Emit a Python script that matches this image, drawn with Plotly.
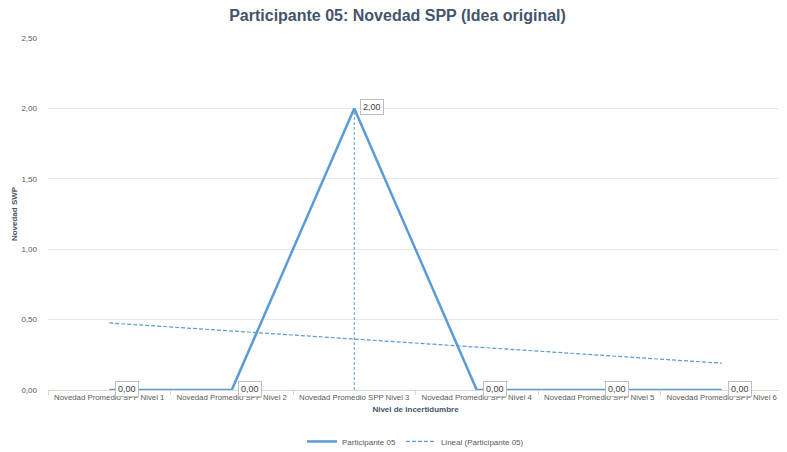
import numpy as np
import plotly.graph_objects as go

categories = ["Novedad Promedio SPP Nivel 1", "Novedad Promedio SPP Nivel 2",
              "Novedad Promedio SPP Nivel 3", "Novedad Promedio SPP Nivel 4",
              "Novedad Promedio SPP Nivel 5", "Novedad Promedio SPP Nivel 6"]
values = [0.0, 0.0, 2.0, 0.0, 0.0, 0.0]
y_ticks = [0, 0.5, 1.0, 1.5, 2.0, 2.5]

title = "Participante 05: Novedad SPP (Idea original)"
series_name = "Participante 05"
trend_name = "Lineal (Participante 05)"

# linear trendline (least squares, as in the spreadsheet "Lineal" trend)
xi = np.arange(1, len(values) + 1)
slope, intercept = np.polyfit(xi, values, 1)
trend = list(slope * xi + intercept)

color = "#5B9BD5"
font_fam = "Liberation Sans, Arial, sans-serif"

fig = go.Figure()
fig.add_trace(go.Scatter(x=categories, y=values, mode="lines", name=series_name,
                         line=dict(color=color, width=2.5)))
fig.add_trace(go.Scatter(x=categories, y=trend, mode="lines", name=trend_name,
                         line=dict(color=color, width=1.2, dash="4px,2px")))
# drop line at the peak
peak_i = int(np.argmax(values))
fig.add_trace(go.Scatter(x=[categories[peak_i], categories[peak_i]], y=[0, values[peak_i]],
                         mode="lines", line=dict(color=color, width=1, dash="3px,2px"),
                         showlegend=False, hoverinfo="skip"))

for c, v in zip(categories, values):
    fig.add_annotation(x=c, y=v, text=f"{v:.2f}".replace(".", ","), showarrow=False,
                       xanchor="left", yanchor="middle", xshift=6, yshift=1,
                       bgcolor="white", bordercolor="#BFBFBF", borderwidth=1, borderpad=2,
                       font=dict(family=font_fam, size=9, color="#404040"))

fig.update_layout(
    width=779, height=444,
    margin=dict(l=40, r=4, t=30, b=62, autoexpand=False),
    paper_bgcolor="white", plot_bgcolor="white",
    separators=", ",
    title=dict(text=f"<b>{title}</b>", x=0.5, xanchor="center", y=0.995, yanchor="top",
               font=dict(family=font_fam, size=16, color="#44546A")),
    xaxis=dict(type="category", categoryorder="array", categoryarray=categories,
               showgrid=False, showline=True, linecolor="#D9D9D9",
               ticks="outside", tickson="boundaries", ticklen=4, tickcolor="#D9D9D9",
               tickangle=0, automargin=False,
               tickfont=dict(family=font_fam, size=7.8, color="#595959"),
               title=dict(text="<b>Nivel de incertidumbre</b>", standoff=5,
                          font=dict(family=font_fam, size=8, color="#44546A")),
               range=[-0.5, len(categories) - 0.5]),
    yaxis=dict(range=[0, 2.5], tickvals=y_ticks, tickformat=".2f", showgrid=True,
               gridcolor="#E7E6EF", zeroline=False, showline=False,
               tickfont=dict(family=font_fam, size=8, color="#595959"),
               ticks="", ticklabelstandoff=10, automargin=False,
               title=dict(text="<b>Novedad SWP</b>", standoff=2,
                          font=dict(family=font_fam, size=8, color="#44546A"))),
    legend=dict(orientation="h", x=0.5, xanchor="center", y=-0.105, yanchor="top",
                font=dict(family=font_fam, size=8, color="#595959"), itemwidth=30),
)

fig.write_html("out.html")
